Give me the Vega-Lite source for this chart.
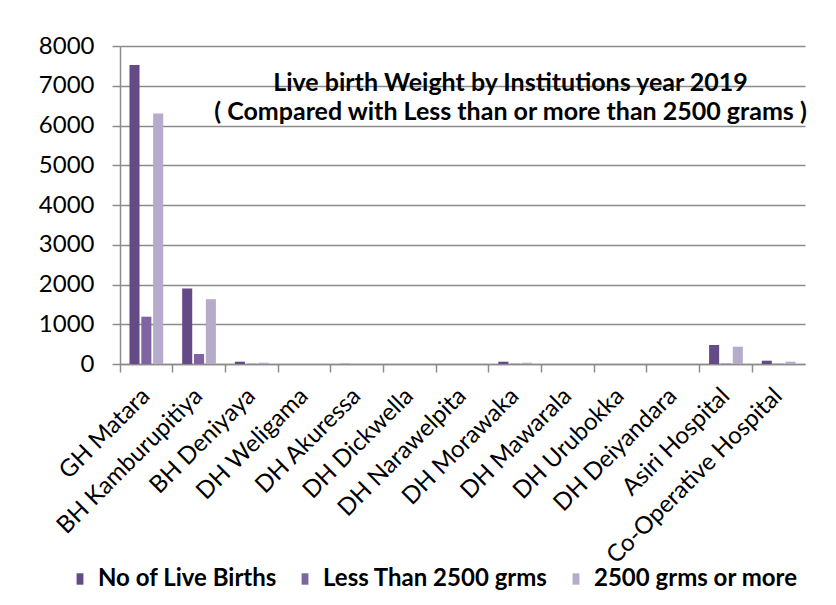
{
  "$schema": "https://vega.github.io/schema/vega-lite/v6.json",
  "width": 685,
  "height": 318,
  "autosize": {"type": "none"},
  "padding": {"left": 120, "top": 46, "right": 31, "bottom": 241},
  "background": "white",
  "title": {
    "text": ["Live birth Weight by Institutions year 2019", "( Compared with Less than or more than 2500 grams )"],
    "font": "Lato",
    "fontSize": 25,
    "fontWeight": "bold",
    "color": "black",
    "anchor": "middle",
    "frame": "group",
    "orient": "top",
    "baseline": "top",
    "lineHeight": 29,
    "dx": 48,
    "offset": -91
  },
  "data": {
    "values": [
      {"institution": "GH Matara", "series": "No of Live Births", "value": 7520},
      {"institution": "GH Matara", "series": "Less Than 2500 grms", "value": 1190},
      {"institution": "GH Matara", "series": "2500 grms or more", "value": 6300},
      {"institution": "BH Kamburupitiya", "series": "No of Live Births", "value": 1900},
      {"institution": "BH Kamburupitiya", "series": "Less Than 2500 grms", "value": 250},
      {"institution": "BH Kamburupitiya", "series": "2500 grms or more", "value": 1630},
      {"institution": "BH Deniyaya", "series": "No of Live Births", "value": 58},
      {"institution": "BH Deniyaya", "series": "Less Than 2500 grms", "value": 5},
      {"institution": "BH Deniyaya", "series": "2500 grms or more", "value": 33},
      {"institution": "DH Weligama", "series": "No of Live Births", "value": 0},
      {"institution": "DH Weligama", "series": "Less Than 2500 grms", "value": 0},
      {"institution": "DH Weligama", "series": "2500 grms or more", "value": 0},
      {"institution": "DH Akuressa", "series": "No of Live Births", "value": 4},
      {"institution": "DH Akuressa", "series": "Less Than 2500 grms", "value": 0},
      {"institution": "DH Akuressa", "series": "2500 grms or more", "value": 4},
      {"institution": "DH Dickwella", "series": "No of Live Births", "value": 0},
      {"institution": "DH Dickwella", "series": "Less Than 2500 grms", "value": 0},
      {"institution": "DH Dickwella", "series": "2500 grms or more", "value": 0},
      {"institution": "DH Narawelpita", "series": "No of Live Births", "value": 0},
      {"institution": "DH Narawelpita", "series": "Less Than 2500 grms", "value": 0},
      {"institution": "DH Narawelpita", "series": "2500 grms or more", "value": 0},
      {"institution": "DH Morawaka", "series": "No of Live Births", "value": 58},
      {"institution": "DH Morawaka", "series": "Less Than 2500 grms", "value": 5},
      {"institution": "DH Morawaka", "series": "2500 grms or more", "value": 33},
      {"institution": "DH Mawarala", "series": "No of Live Births", "value": 0},
      {"institution": "DH Mawarala", "series": "Less Than 2500 grms", "value": 0},
      {"institution": "DH Mawarala", "series": "2500 grms or more", "value": 0},
      {"institution": "DH Urubokka", "series": "No of Live Births", "value": 0},
      {"institution": "DH Urubokka", "series": "Less Than 2500 grms", "value": 0},
      {"institution": "DH Urubokka", "series": "2500 grms or more", "value": 0},
      {"institution": "DH Deiyandara", "series": "No of Live Births", "value": 0},
      {"institution": "DH Deiyandara", "series": "Less Than 2500 grms", "value": 0},
      {"institution": "DH Deiyandara", "series": "2500 grms or more", "value": 0},
      {"institution": "Asiri  Hospital", "series": "No of Live Births", "value": 478},
      {"institution": "Asiri  Hospital", "series": "Less Than 2500 grms", "value": 8},
      {"institution": "Asiri  Hospital", "series": "2500 grms or more", "value": 435},
      {"institution": "Co-Operative Hospital", "series": "No of Live Births", "value": 83},
      {"institution": "Co-Operative Hospital", "series": "Less Than 2500 grms", "value": 5},
      {"institution": "Co-Operative Hospital", "series": "2500 grms or more", "value": 58}
    ]
  },
  "mark": {"type": "bar"},
  "encoding": {
    "x": {
      "field": "institution",
      "type": "nominal",
      "sort": null,
      "scale": {"paddingInner": 0, "paddingOuter": 0},
      "axis": {
        "title": null,
        "labelAngle": -45,
        "labelAlign": "right",
        "labelBaseline": "middle",
        "labelFont": "Lato",
        "labelFontSize": 24,
        "labelColor": "black",
        "labelPadding": 20,
        "labelLimit": 400,
        "bandPosition": 0,
        "tickSize": 8,
        "tickColor": "#8c8c8c",
        "tickWidth": 1.5,
        "domainColor": "#8c8c8c",
        "domainWidth": 1.5
      }
    },
    "xOffset": {
      "field": "series",
      "type": "nominal",
      "sort": ["No of Live Births", "Less Than 2500 grms", "2500 grms or more"],
      "scale": {"paddingInner": 0.15, "paddingOuter": 0.8}
    },
    "y": {
      "field": "value",
      "type": "quantitative",
      "scale": {"domain": [0, 8000], "nice": false},
      "axis": {
        "title": null,
        "values": [0, 1000, 2000, 3000, 4000, 5000, 6000, 7000, 8000],
        "format": "d",
        "labelFont": "Lato",
        "labelFontSize": 24,
        "labelColor": "black",
        "labelPadding": 18,
        "tickSize": 8,
        "tickColor": "#8c8c8c",
        "tickWidth": 1.5,
        "domainColor": "#8c8c8c",
        "domainWidth": 1.5,
        "grid": true,
        "gridColor": "#8c8c8c",
        "gridWidth": 1.5
      }
    },
    "color": {
      "field": "series",
      "type": "nominal",
      "sort": ["No of Live Births", "Less Than 2500 grms", "2500 grms or more"],
      "scale": {
        "domain": ["No of Live Births", "Less Than 2500 grms", "2500 grms or more"],
        "range": ["#654b86", "#8064a2", "#b7abcb"]
      },
      "legend": {
        "title": null,
        "orient": "none",
        "legendX": -52,
        "legendY": 521,
        "direction": "horizontal",
        "labelFont": "Lato",
        "labelFontSize": 24,
        "labelFontWeight": "bold",
        "labelColor": "black",
        "symbolType": "M-0.6,-1L0.6,-1L0.6,1L-0.6,1Z",
        "symbolSize": 130,
        "symbolStrokeWidth": 0,
        "labelOffset": 6,
        "columnPadding": 16,
        "labelLimit": 400
      }
    }
  },
  "config": {
    "view": {"stroke": null}
  }
}
